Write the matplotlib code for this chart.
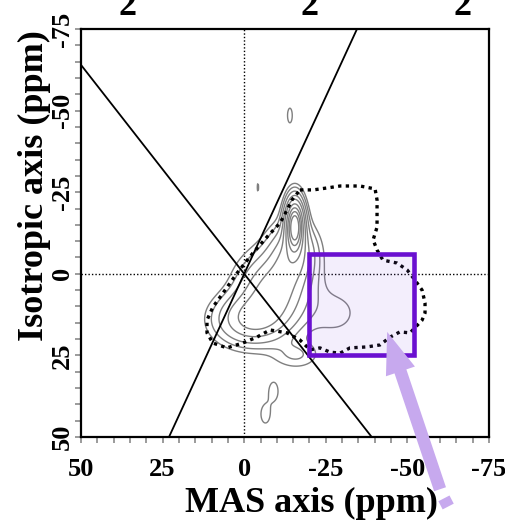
import numpy as np
import matplotlib.pyplot as plt
from matplotlib.patches import Rectangle, FancyArrowPatch

plt.rcParams['font.family'] = ['Liberation Serif', 'DejaVu Serif']
plt.rcParams['font.weight'] = 'bold'

# axis ticks (ppm)
tick_values = [50, 25, 0, -25, -50, -75]
tick_labels = ['50', '25', '0', '-25', '-50', '-75']

# 2D spectrum model: gaussian components (ppm)
peak_x = [-15.5, -15.0, -9.0, -2.0, -28.0, -16.0, -14.0, -4.2, -9.0, -6.5]
peak_y = [-15.0, -6.0, 5.0, 14.0, 12.0, 25.0, -48.5, -26.5, 36.0, 43.0]
peak_wx = [1.8, 4.5, 6.5, 7.0, 6.5, 5.0, 0.8, 0.3, 1.5, 1.5]
peak_wy = [5.0, 6.0, 7.0, 5.0, 6.0, 3.0, 2.5, 1.8, 3.0, 3.0]
peak_amp = [1.0, 0.3, 0.35, 0.3, 0.05, 0.07, 0.06, 0.05, 0.06, 0.06]
contour_levels = [0.04, 0.07, 0.12, 0.2, 0.3, 0.45, 0.6, 0.75, 0.9]

# dotted outline (ppm)
outline_x = [-17.1, -21.1, -25.4, -29.4, -35.5, -40.1, -40.7, -40.7, -39.5, -40.7,
             -42.5, -46.8, -49.9, -52.3, -54.5, -55.4, -55.4, -54.5, -50.8, -47.7,
             -44.7, -41.6, -37.6, -32.4, -29.4, -26.3, -23.2, -20.2, -17.1, -13.1,
             -7.9, -3.9, 0.4, 5.3, 9.6, 11.4, 11.4, 9.6, 6.5, 2.2,
             -2.7, -7.0, -11.0, -13.1, -14.6, -17.1]
outline_y = [-25.7, -25.7, -26.3, -26.9, -26.9, -26.0, -22.6, -14.3, -10.4, -7.3,
             -4.2, -3.3, -1.2, 1.9, 5.0, 8.9, 12.0, 14.2, 18.1, 17.8,
             19.4, 21.8, 22.4, 22.7, 24.3, 24.0, 22.7, 23.3, 20.3, 18.1,
             17.2, 19.4, 21.2, 22.7, 21.2, 18.1, 14.2, 10.2, 5.9, -0.2,
             -6.4, -11.3, -15.6, -19.5, -22.6, -25.7]

# straight lines through the origin
line_slopes = [2.17, -1.28]

# highlighted region (ppm)
box_x = [-20, -52]
box_y = [-6, 25]

# arrow (ppm)
arrow_tail = (-60.0, 66.0)
arrow_head = (-43.8, 17.8)
dash_start = (-61.2, 68.8)
dash_end = (-62.5, 71.3)

fig = plt.figure(figsize=(5.06, 5.22), dpi=100)
ax = fig.add_axes([81 / 506, 1 - 437 / 522, 408 / 506, 408 / 522])

gx = np.linspace(50, -75, 500)
gy = np.linspace(-75, 50, 500)
X, Y = np.meshgrid(gx, gy)
Z = np.zeros_like(X)
for cx, cy, wx, wy, a in zip(peak_x, peak_y, peak_wx, peak_wy, peak_amp):
    Z += a * np.exp(-((X - cx) ** 2 / (2 * wx ** 2) + (Y - cy) ** 2 / (2 * wy ** 2)))
ax.contour(X, Y, Z, levels=contour_levels, colors='#7f7f7f', linewidths=1.0, zorder=2)

ax.axvline(0, color='black', lw=1.0, ls=(0, (1, 1.5)), zorder=1)
ax.axhline(0, color='black', lw=1.0, ls=(0, (1, 1.5)), zorder=1)
for m in line_slopes:
    ax.axline((0, 0), slope=m, color='black', lw=1.3, zorder=3)

ax.plot(outline_x, outline_y, color='black', lw=2.4, ls=(0, (1, 1.3)), zorder=4)

ax.add_patch(Rectangle((box_x[0], box_y[0]), box_x[1] - box_x[0], box_y[1] - box_y[0],
                       facecolor=(0.55, 0.35, 0.92, 0.1), edgecolor='#6a10d0', lw=3.3, zorder=5))

arrow = FancyArrowPatch(arrow_tail, arrow_head,
                        arrowstyle='simple,head_width=22,head_length=30,tail_width=9',
                        mutation_scale=1, color='#c7a9ee', lw=0, shrinkA=0, shrinkB=0,
                        clip_on=False, zorder=6)
ax.add_patch(arrow)
ax.plot([dash_start[0], dash_end[0]], [dash_start[1], dash_end[1]], color='#c7a9ee',
        lw=9, solid_capstyle='butt', clip_on=False, zorder=6)

ax.set_xlim(50, -75)
ax.set_ylim(50, -75)
ax.set_xticks(tick_values)
ax.set_xticklabels(tick_labels)
ax.set_yticks(tick_values)
ax.set_yticklabels(tick_labels, rotation=90, va='center')
ax.set_xticks(np.arange(-75, 51, 5), minor=True)
ax.set_yticks(np.arange(-75, 51, 5), minor=True)
ax.tick_params(which='both', direction='out', length=4, width=1.2, color='#8a8a8a',
               labelsize=19, top=False, right=False)
ax.tick_params(axis='x', pad=11)
ax.tick_params(axis='y', pad=1)
for s in ax.spines.values():
    s.set_linewidth(1.6)

fig.text(312 / 506, 1 - 512 / 522, 'MAS axis (ppm)', ha='center', va='baseline',
         fontsize=26, fontweight='bold')
fig.text(34 / 506, 1 - 186 / 522, 'Isotropic axis (ppm)', ha='center', va='center',
         rotation=90, fontsize=26, fontweight='bold')
# subscripts of a caption above the figure, cut by the top edge as in the source
for xp in [128, 310, 463]:
    fig.text(xp / 506, 1 - 15 / 522, '2', ha='center', va='baseline',
             fontsize=26, fontweight='bold')

fig.savefig('out.png', dpi=100)
